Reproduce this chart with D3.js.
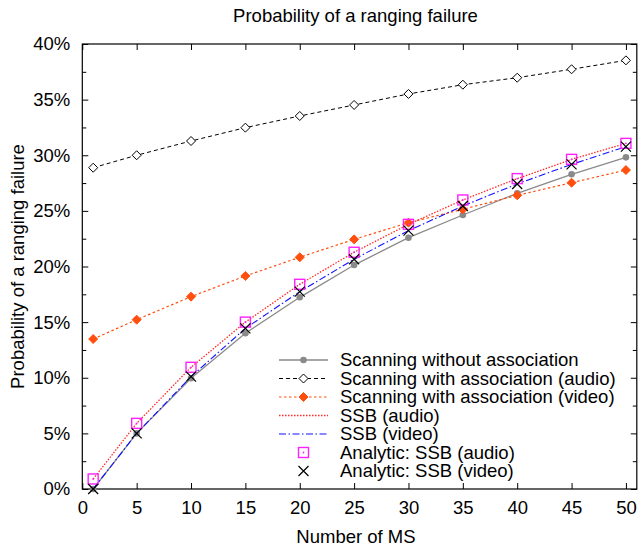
<!DOCTYPE html>
<html><head><meta charset="utf-8">
<script src="https://cdn.jsdelivr.net/npm/d3@7/dist/d3.min.js"></script>
<style>body{margin:0;background:#fff}svg text{font-family:"Liberation Sans",Arial,Helvetica,sans-serif;fill:#000}</style>
</head><body><svg id="c" width="639" height="548"></svg>
<script>
const xValues = [1, 5, 10, 15, 20, 25, 30, 35, 40, 45, 50];
const scanNoAssoc   = [0.0, 5.0, 9.95, 14.0, 17.23, 20.13, 22.59, 24.63, 26.58, 28.29, 29.81];
const scanAssocAudio = [28.88, 30.0, 31.28, 32.48, 33.53, 34.52, 35.51, 36.34, 36.97, 37.73, 38.53];
const scanAssocVideo = [13.48, 15.22, 17.29, 19.15, 20.83, 22.44, 23.94, 25.14, 26.4, 27.53, 28.67];
const ssbAudio = [0.9, 5.9, 10.94, 15.0, 18.4, 21.28, 23.79, 25.98, 27.9, 29.63, 31.07];
const ssbVideo = [0.0, 5.0, 10.1, 14.44, 17.74, 20.65, 23.22, 25.44, 27.42, 29.18, 30.77];
const analyticAudio = [0.9, 5.9, 10.94, 15.0, 18.4, 21.28, 23.79, 25.98, 27.9, 29.63, 31.07];
const analyticVideo = [0.0, 5.0, 10.1, 14.44, 17.74, 20.65, 23.22, 25.44, 27.42, 29.18, 30.77];
const xTicks = [0, 5, 10, 15, 20, 25, 30, 35, 40, 45, 50];
const yTicks = [0, 5, 10, 15, 20, 25, 30, 35, 40];
const yMinorTicks = [2.5, 7.5, 12.5, 17.5, 22.5, 27.5, 32.5, 37.5];
const legendLabels = ["Scanning without association", "Scanning with association (audio)",
  "Scanning with association (video)", "SSB (audio)", "SSB (video)",
  "Analytic: SSB (audio)", "Analytic: SSB (video)"];
const titleText = "Probability of a ranging failure";
const xLabel = "Number of MS";
const yLabel = "Probability of a ranging failure";

const svg = d3.select("#c");
const L = 82.3, R = 636.8, T = 44, B = 489;
const x = d3.scaleLinear().domain([0, 51]).range([L, R]);
const y = d3.scaleLinear().domain([0, 40]).range([B, T]);
const FS = 18.5;

svg.append("rect").attr("x", L).attr("y", T).attr("width", R - L).attr("height", B - T)
  .attr("fill", "none").attr("stroke", "#000").attr("stroke-width", 1.2);

const gx = svg.append("g").attr("transform", `translate(0,${B})`)
  .call(d3.axisBottom(x).tickValues(xTicks).tickSizeInner(-6).tickSizeOuter(0).tickPadding(12));
const gxt = svg.append("g").attr("transform", `translate(0,${T})`)
  .call(d3.axisTop(x).tickValues(xTicks).tickSizeInner(-6).tickSizeOuter(0).tickFormat(""));
const gy = svg.append("g").attr("transform", `translate(${L},0)`)
  .call(d3.axisLeft(y).tickValues(yTicks).tickSizeInner(-6).tickSizeOuter(0).tickPadding(12).tickFormat(d => d + "%"));
const gyr = svg.append("g").attr("transform", `translate(${R},0)`)
  .call(d3.axisRight(y).tickValues(yTicks).tickSizeInner(-6).tickSizeOuter(0).tickFormat(""));
const gym = svg.append("g").attr("transform", `translate(${L},0)`)
  .call(d3.axisLeft(y).tickValues(yMinorTicks).tickSizeInner(-4).tickSizeOuter(0).tickFormat(""));
const gymr = svg.append("g").attr("transform", `translate(${R},0)`)
  .call(d3.axisRight(y).tickValues(yMinorTicks).tickSizeInner(-4).tickSizeOuter(0).tickFormat(""));
[gx, gxt, gy, gyr, gym, gymr].forEach(g => {
  g.select(".domain").remove();
  g.selectAll("line").attr("stroke", "#000").attr("stroke-width", 1);
  g.selectAll("text").attr("font-size", FS).attr("font-family", '"Liberation Sans",Arial,sans-serif');
});
gx.selectAll("text").attr("dy", "0.71em");

svg.append("text").attr("x", (L + 628.7) / 2).attr("y", 22).attr("text-anchor", "middle")
  .attr("font-size", FS).text(titleText);
svg.append("text").attr("x", 356).attr("y", 543).attr("text-anchor", "middle")
  .attr("font-size", FS).text(xLabel);
svg.append("text").attr("transform", `translate(24,${(T + B) / 2}) rotate(-90)`)
  .attr("text-anchor", "middle").attr("font-size", FS).text(yLabel);

const series = [
  {vals: scanNoAssoc, color: "#8a8a8a", dash: null, width: 1.3, marker: "circle"},
  {vals: scanAssocAudio, color: "#000", dash: "4,3", width: 1, marker: "diamondOpen"},
  {vals: scanAssocVideo, color: "#ff4f0f", dash: "2.5,2.5", width: 1.2, marker: "diamondFill"},
  {vals: ssbAudio, color: "#ff2a2a", dash: "1.5,1.5", width: 1.3, marker: null},
  {vals: ssbVideo, color: "#1010ff", dash: "7,2.5,1.5,2.5", width: 1.1, marker: null},
  {vals: analyticAudio, color: "#ff20ff", dash: null, width: 0, marker: "square", noLine: true},
  {vals: analyticVideo, color: "#000", dash: null, width: 0, marker: "cross", noLine: true}
];

function drawMarker(g, type, color, cx, cy) {
  if (type === "circle") {
    g.append("circle").attr("cx", cx).attr("cy", cy).attr("r", 3.3).attr("fill", color);
  } else if (type === "diamondOpen" || type === "diamondFill") {
    const s = 4.5;
    g.append("path").attr("d", `M${cx},${cy - s}L${cx + s},${cy}L${cx},${cy + s}L${cx - s},${cy}Z`)
      .attr("fill", type === "diamondFill" ? color : "#fff").attr("stroke", color).attr("stroke-width", 1);
  } else if (type === "square") {
    const s = 5;
    g.append("rect").attr("x", cx - s).attr("y", cy - s).attr("width", 2 * s).attr("height", 2 * s)
      .attr("fill", "none").attr("stroke", color).attr("stroke-width", 1.4);
    g.append("circle").attr("cx", cx).attr("cy", cy).attr("r", 0.9).attr("fill", color);
  } else if (type === "cross") {
    const s = 5;
    g.append("path").attr("d", `M${cx - s},${cy - s}L${cx + s},${cy + s}M${cx - s},${cy + s}L${cx + s},${cy - s}`)
      .attr("stroke", color).attr("stroke-width", 1.2).attr("fill", "none");
  }
}

const plot = svg.append("g");
const line = d3.line().x((d, i) => x(xValues[i])).y(d => y(d));
series.forEach(s => {
  const g = plot.append("g");
  if (!s.noLine) {
    g.append("path").attr("d", line(s.vals)).attr("fill", "none").attr("stroke", s.color)
      .attr("stroke-width", s.width).attr("stroke-dasharray", s.dash);
  }
  if (s.marker) s.vals.forEach((v, i) => drawMarker(g, s.marker, s.color, x(xValues[i]), y(v)));
});

const legY0 = 360, legDy = 18.5, lx1 = 279, lx2 = 328, tx = 340;
series.forEach((s, i) => {
  const ly = legY0 + i * legDy;
  const g = svg.append("g");
  if (!s.noLine) {
    g.append("line").attr("x1", lx1).attr("x2", lx2).attr("y1", ly).attr("y2", ly)
      .attr("stroke", s.color).attr("stroke-width", s.width).attr("stroke-dasharray", s.dash);
  }
  if (s.marker) drawMarker(g, s.marker, s.color, (lx1 + lx2) / 2, ly);
  g.append("text").attr("x", tx).attr("y", ly).attr("dy", "0.35em").attr("font-size", FS).text(legendLabels[i]);
});
</script></body></html>
